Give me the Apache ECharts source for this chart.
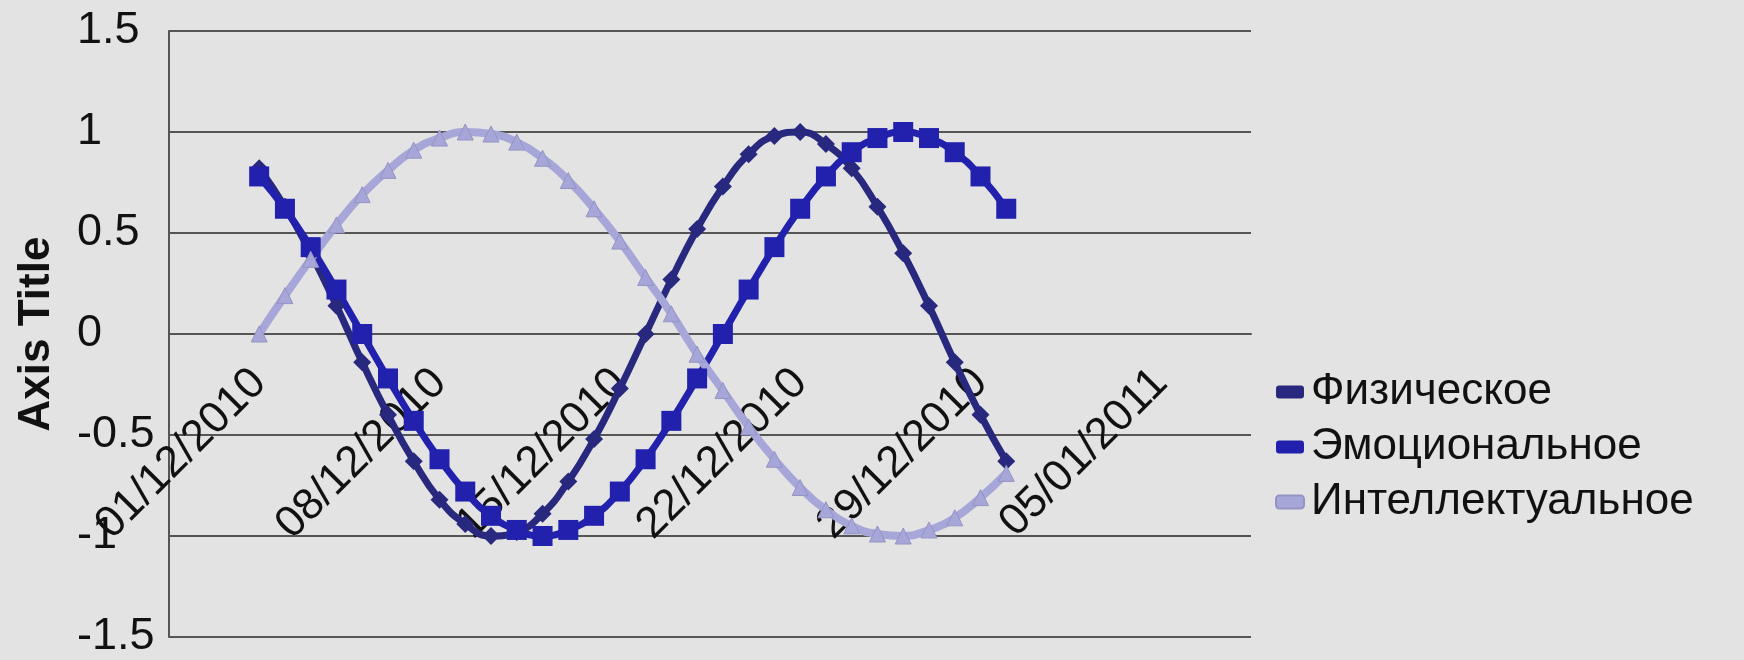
<!DOCTYPE html>
<html>
<head>
<meta charset="utf-8">
<script src="https://cdn.jsdelivr.net/npm/echarts@6/dist/echarts.min.js"></script>
<style>
  html, body { margin: 0; padding: 0; }
  #chart { width: 1744px; height: 660px; }
</style>
</head>
<body>
<div id="chart"></div>
<script>
// date axis runs a few days past the data on both sides, like the Excel date axis
const axisDates = [
  '28/11/2010', '29/11/2010', '30/11/2010',
  '01/12/2010', '02/12/2010', '03/12/2010', '04/12/2010', '05/12/2010', '06/12/2010', '07/12/2010',
  '08/12/2010', '09/12/2010', '10/12/2010', '11/12/2010', '12/12/2010', '13/12/2010', '14/12/2010',
  '15/12/2010', '16/12/2010', '17/12/2010', '18/12/2010', '19/12/2010', '20/12/2010', '21/12/2010',
  '22/12/2010', '23/12/2010', '24/12/2010', '25/12/2010', '26/12/2010', '27/12/2010', '28/12/2010',
  '29/12/2010', '30/12/2010', '31/12/2010', '01/01/2011', '02/01/2011', '03/01/2011', '04/01/2011',
  '05/01/2011', '06/01/2011', '07/01/2011', '08/01/2011'
];
const tickLabels = ['01/12/2010', '08/12/2010', '15/12/2010', '22/12/2010', '29/12/2010', '05/01/2011'];

const days = axisDates.slice(3, 33);

const physical = [
  0.82, 0.63, 0.40, 0.14, -0.14, -0.40, -0.63, -0.82, -0.94, -1.00,
  -0.98, -0.89, -0.73, -0.52, -0.27, 0.00, 0.27, 0.52, 0.73, 0.89,
  0.98, 1.00, 0.94, 0.82, 0.63, 0.40, 0.14, -0.14, -0.40, -0.63
];
const emotional = [
  0.78, 0.62, 0.43, 0.22, 0.00, -0.22, -0.43, -0.62, -0.78, -0.90,
  -0.97, -1.00, -0.97, -0.90, -0.78, -0.62, -0.43, -0.22, 0.00, 0.22,
  0.43, 0.62, 0.78, 0.90, 0.97, 1.00, 0.97, 0.90, 0.78, 0.62
];
const intellectual = [
  0.00, 0.19, 0.37, 0.54, 0.69, 0.81, 0.91, 0.97, 1.00, 0.99,
  0.95, 0.87, 0.76, 0.62, 0.46, 0.28, 0.10, -0.10, -0.28, -0.46,
  -0.62, -0.76, -0.87, -0.95, -0.99, -1.00, -0.97, -0.91, -0.81, -0.69
];

const seriesNames = ['Физическое', 'Эмоциональное', 'Интеллектуальное'];
const gridColor = '#555';
const font = 'Liberation Sans, Arial, sans-serif';

function pairs(values) {
  return values.map((v, i) => [days[i], v]);
}

let chart = echarts.init(document.getElementById('chart'));
chart.setOption({
  animation: false,
  backgroundColor: '#e3e3e3',
  textStyle: { fontFamily: font },
  grid: { left: 169, right: 493, top: 31, bottom: 23, containLabel: false, outerBoundsMode: 'none' },
  legend: {
    orient: 'vertical',
    left: 1275,
    top: 367,
    padding: 0,
    itemGap: 5,
    itemWidth: 28,
    itemHeight: 13,
    textStyle: { fontSize: 44, color: '#111', lineHeight: 50, padding: [0, 0, 0, 2] },
    data: [
      { name: seriesNames[0], icon: 'roundRect' },
      { name: seriesNames[1], icon: 'roundRect' },
      { name: seriesNames[2], icon: 'roundRect' }
    ]
  },
  xAxis: {
    type: 'category',
    data: axisDates,
    boundaryGap: true,
    // labels hang from the zero line, as in the original
    offset: -303,
    axisLine: { onZero: false, lineStyle: { color: gridColor, width: 2 } },
    axisTick: { show: false },
    splitLine: { show: false },
    axisLabel: {
      rotate: 45,
      margin: 42,
      fontSize: 44,
      color: '#111',
      interval: (index, value) => tickLabels.indexOf(value) >= 0
    }
  },
  yAxis: {
    type: 'value',
    min: -1.5,
    max: 1.5,
    interval: 0.5,
    name: 'Axis Title',
    nameLocation: 'middle',
    nameRotate: 90,
    nameGap: 110,
    nameTextStyle: { fontSize: 44, fontWeight: 'bold', color: '#111' },
    axisLine: { show: true, lineStyle: { color: gridColor, width: 2 } },
    axisTick: { show: false },
    splitLine: { lineStyle: { color: gridColor, width: 2 } },
    axisLabel: { fontSize: 45, color: '#111', align: 'left', margin: 92 }
  },
  series: [
    {
      name: seriesNames[0],
      type: 'line',
      data: pairs(physical),
      smooth: true,
      showAllSymbol: true,
      color: '#28287f',
      lineStyle: { width: 7 },
      symbol: 'diamond',
      symbolSize: 18
    },
    {
      name: seriesNames[1],
      type: 'line',
      data: pairs(emotional),
      smooth: true,
      showAllSymbol: true,
      color: '#2121ae',
      lineStyle: { width: 7 },
      symbol: 'rect',
      symbolSize: 20
    },
    {
      name: seriesNames[2],
      type: 'line',
      data: pairs(intellectual),
      smooth: true,
      showAllSymbol: true,
      color: '#a6a6d8',
      lineStyle: { width: 8 },
      itemStyle: { borderColor: '#9494c4', borderWidth: 1 },
      symbol: 'triangle',
      symbolSize: 16
    }
  ]
});
</script>
</body>
</html>
